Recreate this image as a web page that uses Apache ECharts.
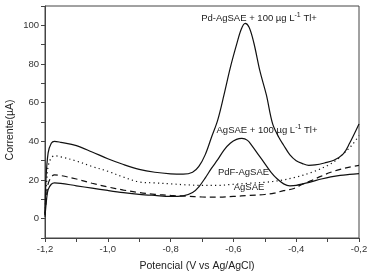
<!DOCTYPE html>
<html>
<head>
<meta charset="utf-8">
<script src="https://cdn.jsdelivr.net/npm/echarts@6/dist/echarts.min.js"></script>
<style>html,body{margin:0;padding:0;background:#fff}#c{width:371px;height:278px}</style>
</head>
<body>
<div id="c"></div>
<script>
// Pd-AgSAE + 100 µg L-1 Tl+ (solid)
const potA = [-1.2,-1.197,-1.19,-1.18,-1.17,-1.15,-1.1,-1.05,-1.0,-0.95,-0.9,-0.85,-0.8,-0.76,-0.73,-0.71,-0.69,-0.67,-0.65,-0.63,-0.61,-0.59,-0.575,-0.5625,-0.55,-0.535,-0.515,-0.495,-0.475,-0.455,-0.44,-0.42,-0.4,-0.38,-0.36,-0.34,-0.31,-0.28,-0.25,-0.23,-0.2];
const curA = [2,20,34,39,40,39.5,37.8,34.5,31,28,25.5,24,23.2,23,24,27,33,42,51,64,78,90,98,101,99,91,76,64,49,42,38,33,30,28.5,27.6,27.8,28.8,30.2,33.5,39,49];
// AgSAE + 100 µg L-1 Tl+ (solid)
const potB = [-1.2,-1.195,-1.19,-1.18,-1.17,-1.15,-1.1,-1.05,-1.0,-0.95,-0.9,-0.85,-0.8,-0.76,-0.73,-0.71,-0.69,-0.67,-0.65,-0.63,-0.61,-0.59,-0.573,-0.555,-0.54,-0.52,-0.5,-0.48,-0.46,-0.44,-0.42,-0.4,-0.38,-0.35,-0.32,-0.29,-0.26,-0.23,-0.2];
const curB = [1,10,15,17.8,18.5,18.3,17,15.8,14.6,13.5,12.6,12,11.5,11.8,13.5,16.5,21,26,30.5,35.5,39,41,41.5,40.5,37.5,33,28.5,24,20.5,18,17,17.2,18,19.2,20.5,21.6,22.4,22.9,23.3];
// PdF-AgSAE (dotted)
const potC = [-1.2,-1.195,-1.19,-1.18,-1.17,-1.15,-1.1,-1.05,-1.0,-0.95,-0.9,-0.85,-0.8,-0.75,-0.7,-0.65,-0.6,-0.55,-0.5,-0.45,-0.4,-0.35,-0.3,-0.27,-0.25,-0.22,-0.2];
const curC = [3,18,27,31.5,32.5,32,29.8,27,24.5,21.5,19,18.5,18,17.5,17.2,17.2,17.8,18.3,18.8,19.8,21.5,24,27.5,30.5,33.5,38.5,43];
// AgSAE (dashed)
const potD = [-1.2,-1.195,-1.19,-1.18,-1.17,-1.15,-1.1,-1.05,-1.0,-0.95,-0.9,-0.85,-0.8,-0.75,-0.7,-0.65,-0.6,-0.55,-0.5,-0.47,-0.44,-0.41,-0.38,-0.35,-0.32,-0.29,-0.26,-0.23,-0.2];
const curD = [2,12,18,21.5,22.7,22.3,20.5,18.3,16.4,14.8,13.5,12.6,12,11.6,11.2,11.1,11.5,12,12.5,13.2,14.5,15.5,17.8,19.8,22,24,25.5,26.7,27.6];

const xTickLabels = ['-1,2','-1,0','-0,8','-0,6','-0,4','-0,2'];
const yTickLabels = ['0','20','40','60','80','100'];

function pairs(xs, ys){ return xs.map((x,i)=>[x, ys[i]]); }

const FONT = 'Liberation Sans, Arial, sans-serif';
const chart = echarts.init(document.getElementById('c'), null, {renderer:'canvas'});
const lineBase = {type:'line', showSymbol:false, smooth:0.35, silent:true};
chart.setOption({
  animation:false,
  backgroundColor:'#fff',
  grid:{left:45, right:12, top:6, bottom:40, show:true, borderColor:'#444', borderWidth:1, backgroundColor:'transparent'},
  xAxis:{type:'value', min:-1.2, max:-0.2, interval:0.1,
    axisLine:{onZero:false, lineStyle:{color:'#444', width:1}},
    axisTick:{show:true, inside:false, length:4, lineStyle:{color:'#444'}},
    splitLine:{show:false},
    axisLabel:{fontFamily:FONT, fontSize:9.5, color:'#333', margin:6,
      formatter:v=>{const k=Math.round(v*10); if(k%2!==0) return ''; const s=v.toFixed(1).replace('.',','); return xTickLabels.includes(s)?s:'';}}
  },
  yAxis:{type:'value', min:-10, max:110, interval:10,
    axisLine:{onZero:false, lineStyle:{color:'#444', width:1}},
    axisTick:{show:true, inside:false, length:4, lineStyle:{color:'#444'}},
    splitLine:{show:false},
    axisLabel:{fontFamily:FONT, fontSize:9.5, color:'#333', margin:6,
      formatter:v=>{const s=String(Math.round(v)); return yTickLabels.includes(s)?s:'';}}
  },
  series:[
    Object.assign({}, lineBase, {name:'Pd-AgSAE + Tl', data:pairs(potA,curA), lineStyle:{color:'#111', width:1.2}}),
    Object.assign({}, lineBase, {name:'AgSAE + Tl', data:pairs(potB,curB), lineStyle:{color:'#111', width:1.2}}),
    Object.assign({}, lineBase, {name:'PdF-AgSAE', data:pairs(potC,curC), lineStyle:{color:'#111', width:1.2, type:[1.2,3.2]}}),
    Object.assign({}, lineBase, {name:'AgSAE', data:pairs(potD,curD), lineStyle:{color:'#111', width:1.2, type:[6,4]}})
  ],
  graphic:[
    {type:'text', x:259, y:18, style:{text:'Pd-AgSAE + 100 µg L{sup|-1} Tl+', font:'9.5px '+FONT, fill:'#222', align:'center', verticalAlign:'middle',
      rich:{sup:{fontSize:7, fontFamily:FONT, fill:'#222', verticalAlign:'bottom', padding:[0,0,5,0]}}}},
    {type:'text', x:267, y:130, style:{text:'AgSAE + 100 µg L{sup|-1} Tl+', font:'9.5px '+FONT, fill:'#222', align:'center', verticalAlign:'middle',
      rich:{sup:{fontSize:7, fontFamily:FONT, fill:'#222', verticalAlign:'bottom', padding:[0,0,5,0]}}}},
    {type:'text', x:243.5, y:172, style:{text:'PdF-AgSAE', font:'9.5px '+FONT, fill:'#222', align:'center', verticalAlign:'middle'}},
    {type:'text', x:249, y:187, style:{text:'AgSAE', font:'9.5px '+FONT, fill:'#222', align:'center', verticalAlign:'middle'}},
    {type:'text', x:197, y:266, style:{text:'Potencial (V vs Ag/AgCl)', font:'10.5px '+FONT, fill:'#222', align:'center', verticalAlign:'middle'}},
    {type:'text', x:10, y:130, rotation:Math.PI/2, style:{text:'Corrente(µA)', font:'10.5px '+FONT, fill:'#222', align:'center', verticalAlign:'middle'}}
  ]
});
</script>
</body>
</html>
